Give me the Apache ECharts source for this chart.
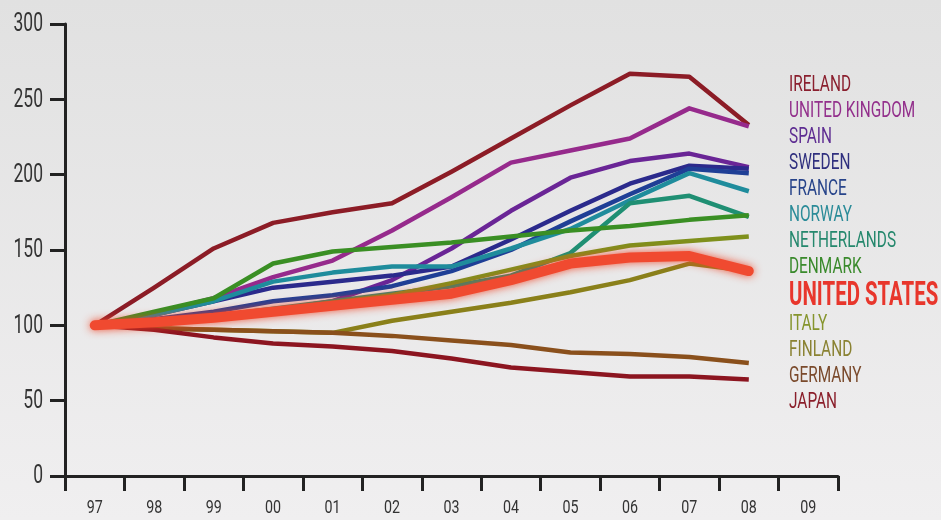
<!DOCTYPE html>
<html>
<head>
<meta charset="utf-8">
<script src="https://cdn.jsdelivr.net/npm/echarts@6/dist/echarts.min.js"></script>
<style>
  html, body { margin: 0; padding: 0; }
  #chart { width: 941px; height: 520px; }
</style>
</head>
<body>
<div id="chart"></div>
<script>
// Index of house prices, 1997 = 100
const years = ['97', '98', '99', '00', '01', '02', '03', '04', '05', '06', '07', '08', '09'];
const yTicks = [0, 50, 100, 150, 200, 250, 300];

const ireland      = [100, 125, 151, 168, 175, 181, 202, 224, 246, 267, 265, 233];
const unitedKingdom= [100, 108, 118, 132, 143, 163, 185, 208, 216, 224, 244, 232];
const spain        = [100, 101, 105, 110, 116, 130, 151, 176, 198, 209, 214, 205];
const sweden       = [100, 107, 116, 125, 129, 133, 139, 157, 176, 194, 206, 204];
const france       = [100, 104, 109, 116, 120, 126, 136, 150, 169, 187, 204, 201];
const norway       = [100, 107, 116, 129, 135, 139, 139, 151, 164, 183, 201, 189];
const netherlands  = [100, 103, 106, 111, 116, 121, 126, 133, 148, 181, 186, 172];
const denmark      = [100, 109, 118, 141, 149, 152, 155, 159, 163, 166, 170, 173];
const unitedStates = [100, 102, 105, 109, 113, 117, 121, 130, 141, 145, 146, 136];
const italy        = [100, 102, 105, 110, 115, 120, 128, 137, 146, 153, 156, 159];
const finland      = [100, 98, 97, 96, 95, 103, 109, 115, 122, 130, 141, 136];
const germany      = [100, 98, 97, 96, 95, 93, 90, 87, 82, 81, 79, 75];
const japan        = [100, 97, 92, 88, 86, 83, 78, 72, 69, 66, 66, 64];

const countries = [
  { name: 'IRELAND',        data: ireland,       color: '#8c1c26', text: '#8a1f2e' },
  { name: 'UNITED KINGDOM', data: unitedKingdom, color: '#962a8c', text: '#93308c' },
  { name: 'SPAIN',          data: spain,         color: '#6a2596', text: '#5e2d92' },
  { name: 'SWEDEN',         data: sweden,        color: '#2b2a8c', text: '#2f2f7e' },
  { name: 'FRANCE',         data: france,        color: '#1f3f96', text: '#27448a' },
  { name: 'NORWAY',         data: norway,        color: '#1f8c9c', text: '#2a8b98' },
  { name: 'NETHERLANDS',    data: netherlands,   color: '#1f8f73', text: '#25886d' },
  { name: 'DENMARK',        data: denmark,       color: '#3a8f24', text: '#3a8a2c' },
  { name: 'UNITED STATES',  data: unitedStates,  color: '#f04a30', text: '#e8362c', us: true },
  { name: 'ITALY',          data: italy,         color: '#7f901c', text: '#86952e' },
  { name: 'FINLAND',        data: finland,       color: '#8a801a', text: '#8a8232' },
  { name: 'GERMANY',        data: germany,       color: '#8a501c', text: '#7a4a2c' },
  { name: 'JAPAN',          data: japan,         color: '#8c1520', text: '#8a1e2a' }
];

// condensed look: a regular face squeezed horizontally
const FONT = 'Roboto, "Noto Sans", sans-serif';
const SQUEEZE = 0.7;

const series = countries.map(c => ({
  name: c.name,
  type: 'line',
  data: c.data,
  symbol: 'none',
  z: c.us ? 5 : 2,
  color: c.color,
  lineStyle: c.us
    ? { width: 10, color: c.color, cap: 'round', join: 'round',
        shadowColor: 'rgba(240, 70, 40, 0.9)', shadowBlur: 8 }
    : { width: 4.5, color: c.color, cap: 'butt', join: 'round' }
}));

const grid = { left: 65, right: 103, top: 24, bottom: 44 };

const chart = echarts.init(document.getElementById('chart'));
chart.setOption({
  animation: false,
  backgroundColor: {
    type: 'linear', x: 0, y: 0, x2: 0, y2: 1,
    colorStops: [
      { offset: 0, color: '#e1e1e1' },
      { offset: 1, color: '#f0eff0' }
    ]
  },
  grid: Object.assign({ containLabel: false }, grid),
  xAxis: {
    type: 'category',
    data: years,
    boundaryGap: true,
    axisLine: { lineStyle: { color: '#222', width: 3 } },
    axisTick: { show: true, length: 15, lineStyle: { color: '#222', width: 3 } },
    axisLabel: { show: false },
    splitLine: { show: false }
  },
  yAxis: {
    type: 'value',
    min: yTicks[0],
    max: yTicks[yTicks.length - 1],
    interval: yTicks[1] - yTicks[0],
    axisLine: { show: true, lineStyle: { color: '#222', width: 3 } },
    axisTick: { show: true, length: 15, lineStyle: { color: '#222', width: 3 } },
    axisLabel: { show: false },
    splitLine: { show: false }
  },
  series: series
});

// Tick labels placed through the axes' own scales, in a squeezed face
const graphics = [];
yTicks.forEach(t => {
  const py = chart.convertToPixel({ yAxisIndex: 0 }, t);
  graphics.push({
    type: 'text', x: grid.left - 22, y: py + 1, scaleX: SQUEEZE,
    style: { text: String(t), fill: '#333', font: '25px ' + FONT,
             align: 'right', verticalAlign: 'middle' }
  });
});
const baseY = chart.convertToPixel({ yAxisIndex: 0 }, yTicks[0]);
years.forEach(y => {
  const px = chart.convertToPixel({ xAxisIndex: 0 }, y);
  graphics.push({
    type: 'text', x: px, y: baseY + 32, scaleX: SQUEEZE + 0.05,
    style: { text: y, fill: '#333', font: '19px ' + FONT,
             align: 'center', verticalAlign: 'middle' }
  });
});

// Colour-keyed country names down the right side
const legendX = 789;
let rowY = 85;
countries.forEach(c => {
  if (c.us) rowY += 3;
  graphics.push({
    type: 'text', x: legendX, y: rowY, scaleX: c.us ? 0.6 : SQUEEZE,
    style: { text: c.name, fill: c.text,
             font: (c.us ? 'bold 34px ' : '22px ') + FONT,
             align: 'left', verticalAlign: 'middle' }
  });
  rowY += c.us ? 28 : 26;
});

chart.setOption({ graphic: graphics });
</script>
</body>
</html>
